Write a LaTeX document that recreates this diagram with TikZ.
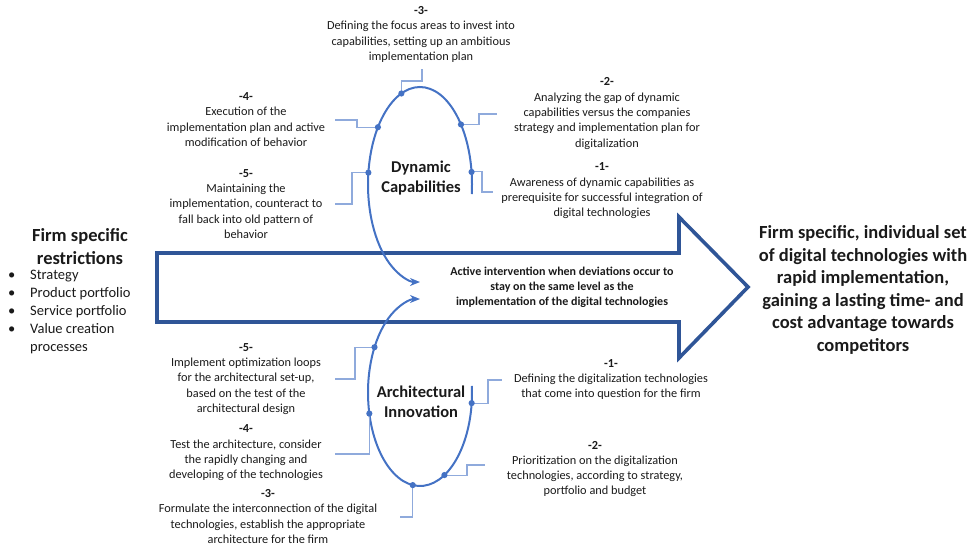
\documentclass[tikz,border=0pt]{standalone}
\usepackage{fontspec}
\setmainfont{Carlito}
\usetikzlibrary{arrows.meta,calc}
\definecolor{arrowblue}{HTML}{2F5597}
\definecolor{loopblue}{HTML}{4472C4}
\definecolor{connblue}{HTML}{8FAADC}
\definecolor{textgray}{HTML}{1A1A1A}
\begin{document}
\begin{tikzpicture}[x=1pt,y=-1pt,
  note/.style={align=center, inner sep=0pt, font=\fontsize{12.3}{15.3}\selectfont, text=textgray},
  midnote/.style={align=center, inner sep=0pt, font=\bfseries\fontsize{12}{15.2}\selectfont, text=textgray},
  looplabel/.style={align=center, inner sep=0pt, font=\bfseries\fontsize{16.5}{20.5}\selectfont, text=textgray},
  headline/.style={align=center, inner sep=0pt, font=\bfseries\fontsize{18.5}{22.5}\selectfont, text=textgray},
  bigarrow/.style={draw=arrowblue, line width=3.6pt, line join=miter, miter limit=10},
  loopline/.style={draw=loopblue, line width=2pt, -{Stealth[length=10pt,width=8pt]}},
  connline/.style={draw=connblue, line width=1.1pt},
  dotmark/.style={fill=loopblue, draw=none},
]
\useasboundingbox (0,0) rectangle (977,547);

% big arrow
\draw[bigarrow] (157,253) -- (679,253) -- (679,217) -- (748,287) -- (679,358) -- (679,322) -- (157,322) -- cycle;

% loops
\coordinate (ct) at (420,184.5);
\coordinate (cb) at (420,392.5);
\draw[loopline] ($(ct)+(-5.6:52pt and 97.5pt)$) arc[start angle=-5.6, end angle=270, x radius=52pt, y radius=97.5pt];
\draw[loopline] ($(cb)+(4:52pt and 93.5pt)$) arc[start angle=4, end angle=-270, x radius=52pt, y radius=93.5pt];

% dots on top loop
\coordinate (td1) at ($(ct)+(7.4:52pt and 97.5pt)$);
\coordinate (td2) at ($(ct)+(38:52pt and 97.5pt)$);
\coordinate (td3) at ($(ct)+(111:52pt and 97.5pt)$);
\coordinate (td4) at ($(ct)+(144:52pt and 97.5pt)$);
\coordinate (td5) at ($(ct)+(173:52pt and 97.5pt)$);
% dots on bottom loop
\coordinate (bd1) at ($(cb)+(-6.5:52pt and 93.5pt)$);
\coordinate (bd2) at ($(cb)+(-62:52pt and 93.5pt)$);
\coordinate (bd3) at ($(cb)+(-98:52pt and 93.5pt)$);
\coordinate (bd4) at ($(cb)+(193:52pt and 93.5pt)$);
\coordinate (bd5) at ($(cb)+(151:52pt and 93.5pt)$);

% connector elbows and ends
\coordinate (te1a) at (482,192); \coordinate (te1) at (493,192);
\coordinate (te2a) at (479,114); \coordinate (te2) at (497,114);
\coordinate (te3a) at (422,81);  \coordinate (te3) at (422,69);
\coordinate (te4a) at (357,120); \coordinate (te4) at (335,120);
\coordinate (te5a) at (352,204); \coordinate (te5) at (335,204);
\coordinate (be1a) at (488,380); \coordinate (be1) at (502,380);
\coordinate (be2a) at (467,465); \coordinate (be2) at (485,465);
\coordinate (be3) at (400,517);
\coordinate (be4) at (335,454);
\coordinate (be5a) at (355,379); \coordinate (be5) at (335,379);

\draw[connline] (td1) -| (te1a) -- (te1);
\draw[connline] (td2) -| (te2a) -- (te2);
\draw[connline] (td3) |- (te3a) -- (te3);
\draw[connline] (td4) -| (te4a) -- (te4);
\draw[connline] (td5) -| (te5a) -- (te5);
\draw[connline] (bd1) -| (be1a) -- (be1);
\draw[connline] (bd2) -| (be2a) -- (be2);
\draw[connline] (bd3) |- (be3);
\draw[connline] (bd4) |- (be4);
\draw[connline] (bd5) -| (be5a) -- (be5);

\foreach \d in {td1,td2,td3,td4,td5,bd1,bd2,bd3,bd4,bd5}
  \fill[dotmark] (\d) circle[radius=3.1pt];

% loop labels
\node[looplabel] (dyn) at (421,178) {Dynamic\\Capabilities};
\node[looplabel] (arch) at (421,402) {Architectural\\Innovation};

% top notes
\node[note] (t3) at (421,34.5) {\textbf{-3-}\\Defining the focus areas to invest into\\capabilities, setting up an ambitious\\implementation plan};
\node[note] (t2) at (607,113.5) {\textbf{-2-}\\Analyzing the gap of dynamic\\capabilities versus the companies\\strategy and implementation plan for\\digitalization};
\node[note] (t1) at (602,191) {\textbf{-1-}\\Awareness of dynamic capabilities as\\prerequisite for successful integration of\\digital technologies};
\node[note] (t4) at (246,119.5) {\textbf{-4-}\\Execution of the\\implementation plan and active\\modification of behavior};
\node[note] (t5) at (246,204) {\textbf{-5-}\\Maintaining the\\implementation, counteract to\\fall back into old pattern of\\behavior};

% bottom notes
\node[note] (b5) at (246,379) {\textbf{-5-}\\Implement optimization loops\\for the architectural set-up,\\based on the test of the\\architectural design};
\node[note] (b4) at (246,453) {\textbf{-4-}\\Test the architecture, consider\\the rapidly changing and\\developing of the technologies};
\node[note] (b3) at (268,516.5) {\textbf{-3-}\\Formulate the interconnection of the digital\\technologies, establish the appropriate\\architecture for the firm};
\node[note] (b1) at (611,379.5) {\textbf{-1-}\\Defining the digitalization technologies\\that come into question for the firm};
\node[note] (b2) at (595,469) {\textbf{-2-}\\Prioritization on the digitalization\\technologies, according to strategy,\\portfolio and budget};

% middle text
\node[midnote] (mid) at (562,287) {Active intervention when deviations occur to\\stay on the same level as the\\implementation of the digital technologies};

% left side
\node[headline] (lefthead) at (80,246.5) {Firm specific\\restrictions};
\node[align=left, inner sep=0pt, anchor=west, text=textgray, font=\fontsize{14.5}{17.9}\selectfont] (leftlist) at (8,312)
  {\makebox[22pt][l]{•}Strategy\\
   \makebox[22pt][l]{•}Product portfolio\\
   \makebox[22pt][l]{•}Service portfolio\\
   \makebox[22pt][l]{•}Value creation\\
   \hspace*{22pt}processes};

% right side
\node[headline] (righthead) at (863,290) {Firm specific, individual set\\of digital technologies with\\rapid implementation,\\gaining a lasting time- and\\cost advantage towards\\competitors};
\end{tikzpicture}
\end{document}
